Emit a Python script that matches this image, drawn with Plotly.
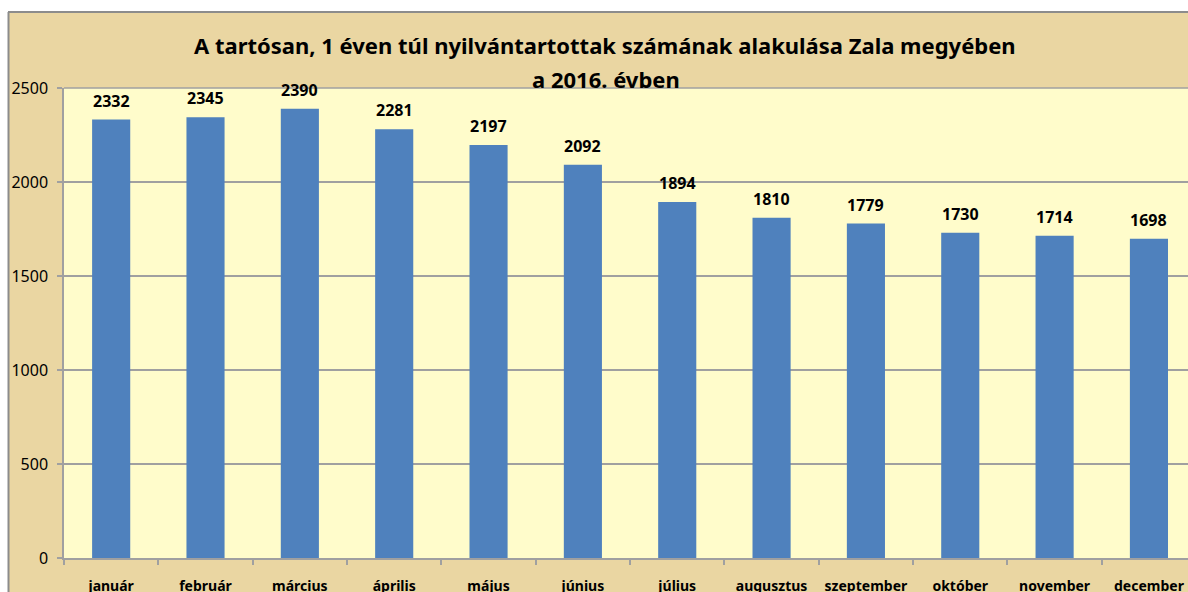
import plotly.graph_objects as go

months = ["január", "február", "március", "április", "május", "június",
          "július", "augusztus", "szeptember", "október", "november", "december"]
values = [2332, 2345, 2390, 2281, 2197, 2092, 1894, 1810, 1779, 1730, 1714, 1698]
y_ticks = [0, 500, 1000, 1500, 2000, 2500]
title_line1 = "A tartósan, 1 éven túl nyilvántartottak számának alakulása Zala megyében"
title_line2 = "a 2016. évben"

W, H = 1188, 592
L, R, T, B = 64, 0, 88, 34
pw, ph = W - L - R, H - T - B

TAN = "#EAD6A2"
GRID = "#A0A0A0"
FONT = "Noto Sans"

fig = go.Figure(go.Bar(
    x=months, y=values,
    marker=dict(color="#4F81BD", line=dict(width=0)),
    hoverinfo="x+y",
))

def px_x(px):
    return (px - L) / pw

def px_y(py):
    return 1 - (py - T) / ph

shapes = [
    # white strips outside the chart frame
    dict(type="rect", xref="paper", yref="paper", x0=px_x(-5), x1=px_x(W + 5), y0=px_y(12), y1=px_y(-5),
         fillcolor="white", line=dict(width=0), layer="above"),
    dict(type="rect", xref="paper", yref="paper", x0=px_x(-5), x1=px_x(8), y0=px_y(H + 5), y1=px_y(12),
         fillcolor="white", line=dict(width=0), layer="above"),
    # frame lines
    dict(type="line", xref="paper", yref="paper", x0=px_x(8), x1=px_x(W + 5), y0=px_y(12), y1=px_y(12),
         line=dict(color="#8C8C8C", width=2), layer="above"),
    dict(type="line", xref="paper", yref="paper", x0=px_x(8.5), x1=px_x(8.5), y0=px_y(12), y1=px_y(H + 5),
         line=dict(color="#8C8C8C", width=2), layer="above"),
    # plot area top border
    dict(type="line", xref="paper", yref="paper", x0=0, x1=1, y0=1, y1=1,
         line=dict(color=GRID, width=1.5), layer="above"),
]

annotations = [
    dict(text=title_line1, xref="paper", yref="paper", x=px_x(605), y=px_y(45),
         showarrow=False, xanchor="center", yanchor="middle",
         font=dict(family=FONT, size=22, color="black", weight="bold")),
    dict(text=title_line2, xref="paper", yref="paper", x=px_x(606), y=px_y(79),
         showarrow=False, xanchor="center", yanchor="middle",
         font=dict(family=FONT, size=22, color="black", weight="bold")),
]
for m, v in zip(months, values):
    annotations.append(dict(
        text=str(v), x=m, y=v, xref="x", yref="y", showarrow=False,
        xanchor="center", yanchor="bottom", yshift=6,
        font=dict(family=FONT, size=16, color="black", weight="bold"),
    ))

fig.update_layout(
    width=W, height=H,
    margin=dict(l=L, r=R, t=T, b=B, pad=0, autoexpand=False),
    paper_bgcolor=TAN,
    plot_bgcolor="#FFFCCB",
    bargap=0.596,
    showlegend=False,
    shapes=shapes,
    annotations=annotations,
    font=dict(family=FONT, color="black"),
)
fig.update_xaxes(
    range=[-0.5, 11.414], tickson="boundaries", ticks="outside", ticklen=5,
    tickcolor=GRID, tickwidth=1.5, showline=True, linecolor=GRID, linewidth=1.5,
    tickfont=dict(family=FONT, size=14, color="black", weight="bold"),
    showgrid=False, fixedrange=True, ticklabelstandoff=14, automargin=False,
)
fig.update_yaxes(
    range=[0, 2500], tickvals=y_ticks, ticks="outside", ticklen=5,
    tickcolor=GRID, tickwidth=1.5, showline=True, linecolor=GRID, linewidth=1.5,
    showgrid=True, gridcolor=GRID, gridwidth=1.5, zeroline=False,
    tickfont=dict(family=FONT, size=16, color="black"), ticklabelstandoff=6,
    automargin=False,
)

fig.write_html(
    "out.html",
    config={"displayModeBar": False},
    post_script="document.body.style.margin='0';document.body.style.overflow='hidden';",
)
